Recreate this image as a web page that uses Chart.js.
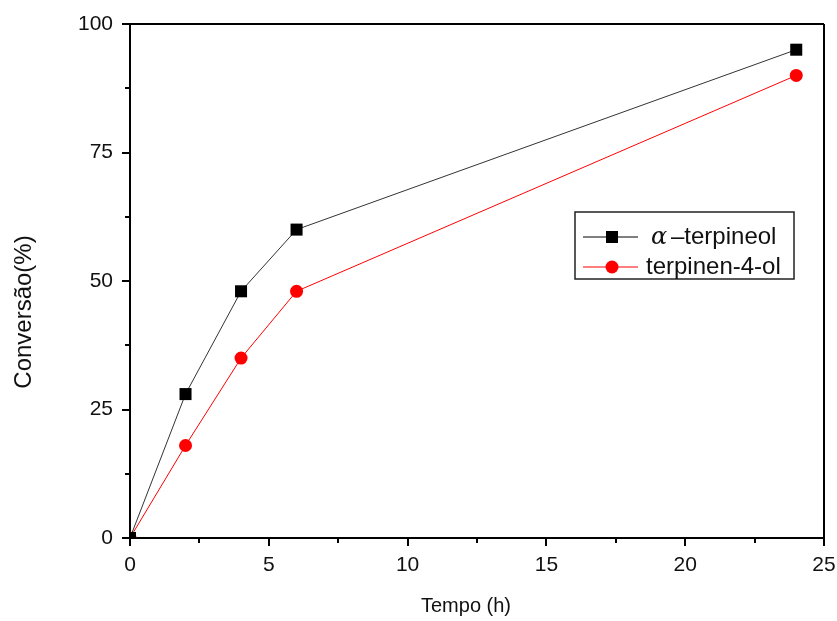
<!DOCTYPE html>
<html>
<head>
<meta charset="utf-8">
<script src="https://cdn.jsdelivr.net/npm/chart.js@4.4.1/dist/chart.umd.min.js"></script>
<style>
  html, body { margin: 0; padding: 0; background: #fff; }
  #wrap { width: 837px; height: 621px; }
</style>
</head>
<body>
<div id="wrap"><canvas id="myChart"></canvas></div>
<script>
// data
const tempo = [0, 2, 4, 6, 24];
const alphaTerpineol = [0, 28, 48, 60, 95];
const terpinen4ol = [0, 18, 35, 48, 90];
const seriesNames = ['\u2013terpineol', 'terpinen-4-ol'];
const xTicks = [0, 5, 10, 15, 20, 25];
const yTicks = [0, 25, 50, 75, 100];
const xTitle = 'Tempo (h)';
const yTitle = 'Conversão(%)';

const toPoints = (ys) => tempo.map((t, i) => ({x: t, y: ys[i]}));
const SANS = '"Liberation Sans", Arial, sans-serif';

// frame (top/right), minor ticks, axis titles, legend box
const extras = {
  id: 'extras',
  afterDraw(chart) {
    const ctx = chart.ctx;
    const a = chart.chartArea;
    const xs = chart.scales.x, ys = chart.scales.y;
    ctx.save();
    ctx.strokeStyle = '#000';
    ctx.lineWidth = 2;
    ctx.beginPath();
    ctx.moveTo(a.left, a.top); ctx.lineTo(a.right, a.top);
    ctx.moveTo(a.right, a.top); ctx.lineTo(a.right, a.bottom);
    ctx.stroke();

    // minor ticks
    ctx.beginPath();
    for (let i = 0; i < xTicks.length - 1; i++) {
      const px = Math.round(xs.getPixelForValue((xTicks[i] + xTicks[i + 1]) / 2));
      ctx.moveTo(px, a.bottom); ctx.lineTo(px, a.bottom + 5);
    }
    for (let i = 0; i < yTicks.length - 1; i++) {
      const py = Math.round(ys.getPixelForValue((yTicks[i] + yTicks[i + 1]) / 2));
      ctx.moveTo(a.left, py); ctx.lineTo(a.left - 5, py);
    }
    ctx.stroke();

    // axis titles
    ctx.fillStyle = '#111';
    ctx.textAlign = 'center';
    ctx.textBaseline = 'middle';
    ctx.font = '20px ' + SANS;
    ctx.fillText(xTitle, 466, 606);
    ctx.save();
    ctx.translate(24, 312);
    ctx.rotate(-Math.PI / 2);
    ctx.font = '24px ' + SANS;
    ctx.fillText(yTitle, 0, 0);
    ctx.restore();

    // legend
    ctx.textAlign = 'left';
    const bx = 575, by = 212, bw = 219, bh = 67;
    ctx.lineWidth = 1.5;
    ctx.strokeStyle = '#222';
    ctx.strokeRect(bx, by, bw, bh);

    const rows = [
      {y: 237, color: '#000', line: '#000', shape: 'square'},
      {y: 267, color: '#ff0000', line: '#ff0000', shape: 'circle'}
    ];
    rows.forEach((r, i) => {
      ctx.strokeStyle = r.line;
      ctx.lineWidth = 1;
      ctx.beginPath();
      ctx.moveTo(583, r.y); ctx.lineTo(638, r.y);
      ctx.stroke();
      ctx.fillStyle = r.color;
      if (r.shape === 'square') {
        ctx.fillRect(606, r.y - 6, 12, 12);
      } else {
        ctx.beginPath();
        ctx.arc(612, r.y, 6.5, 0, Math.PI * 2);
        ctx.fill();
      }
      ctx.fillStyle = '#111';
      if (i === 0) {
        ctx.font = 'italic 24px "DejaVu Serif", serif';
        ctx.fillText('\u03B1', 651, r.y + 1);
        ctx.font = '24px ' + SANS;
        ctx.fillText(seriesNames[0], 671, r.y);
      } else {
        ctx.font = '24px ' + SANS;
        ctx.fillText(seriesNames[1], 646, r.y);
      }
    });
    ctx.restore();
  }
};

const tickFont = {family: SANS, size: 21};

new Chart(document.getElementById('myChart'), {
  type: 'scatter',
  data: {
    datasets: [{
      label: 'alpha-terpineol',
      data: toPoints(alphaTerpineol),
      showLine: true,
      borderColor: '#333',
      borderWidth: 1,
      backgroundColor: '#000',
      pointStyle: 'rect',
      pointRadius: 8.5,
      pointBorderWidth: 0,
      pointBackgroundColor: '#000'
    }, {
      label: 'terpinen-4-ol',
      data: toPoints(terpinen4ol),
      showLine: true,
      borderColor: '#ff0000',
      borderWidth: 1,
      backgroundColor: '#ff0000',
      pointStyle: 'circle',
      pointRadius: 6.5,
      pointBorderWidth: 0,
      pointBackgroundColor: '#ff0000'
    }]
  },
  options: {
    responsive: true,
    maintainAspectRatio: false,
    animation: false,
    layout: {padding: {left: 8, top: 24, right: 13, bottom: 4}},
    plugins: {legend: {display: false}, tooltip: {enabled: false}},
    scales: {
      x: {
        type: 'linear', min: 0, max: 25,
        afterFit(s) { s.height = 79; s.paddingLeft = 0; s.paddingRight = 0; },
        afterBuildTicks(s) { s.ticks = xTicks.map(v => ({value: v})); },
        ticks: {color: '#111', font: tickFont, padding: 7, maxRotation: 0},
        grid: {drawOnChartArea: false, drawTicks: true, tickLength: 8, color: '#000', lineWidth: 2},
        border: {display: true, color: '#000', width: 2}
      },
      y: {
        type: 'linear', min: 0, max: 100,
        afterFit(s) { s.width = 122; s.paddingTop = 0; s.paddingBottom = 0; },
        afterBuildTicks(s) { s.ticks = yTicks.map(v => ({value: v})); },
        ticks: {color: '#111', font: tickFont, padding: 9},
        grid: {drawOnChartArea: false, drawTicks: true, tickLength: 8, color: '#000', lineWidth: 2},
        border: {display: true, color: '#000', width: 2}
      }
    }
  },
  plugins: [extras]
});
</script>
</body>
</html>
